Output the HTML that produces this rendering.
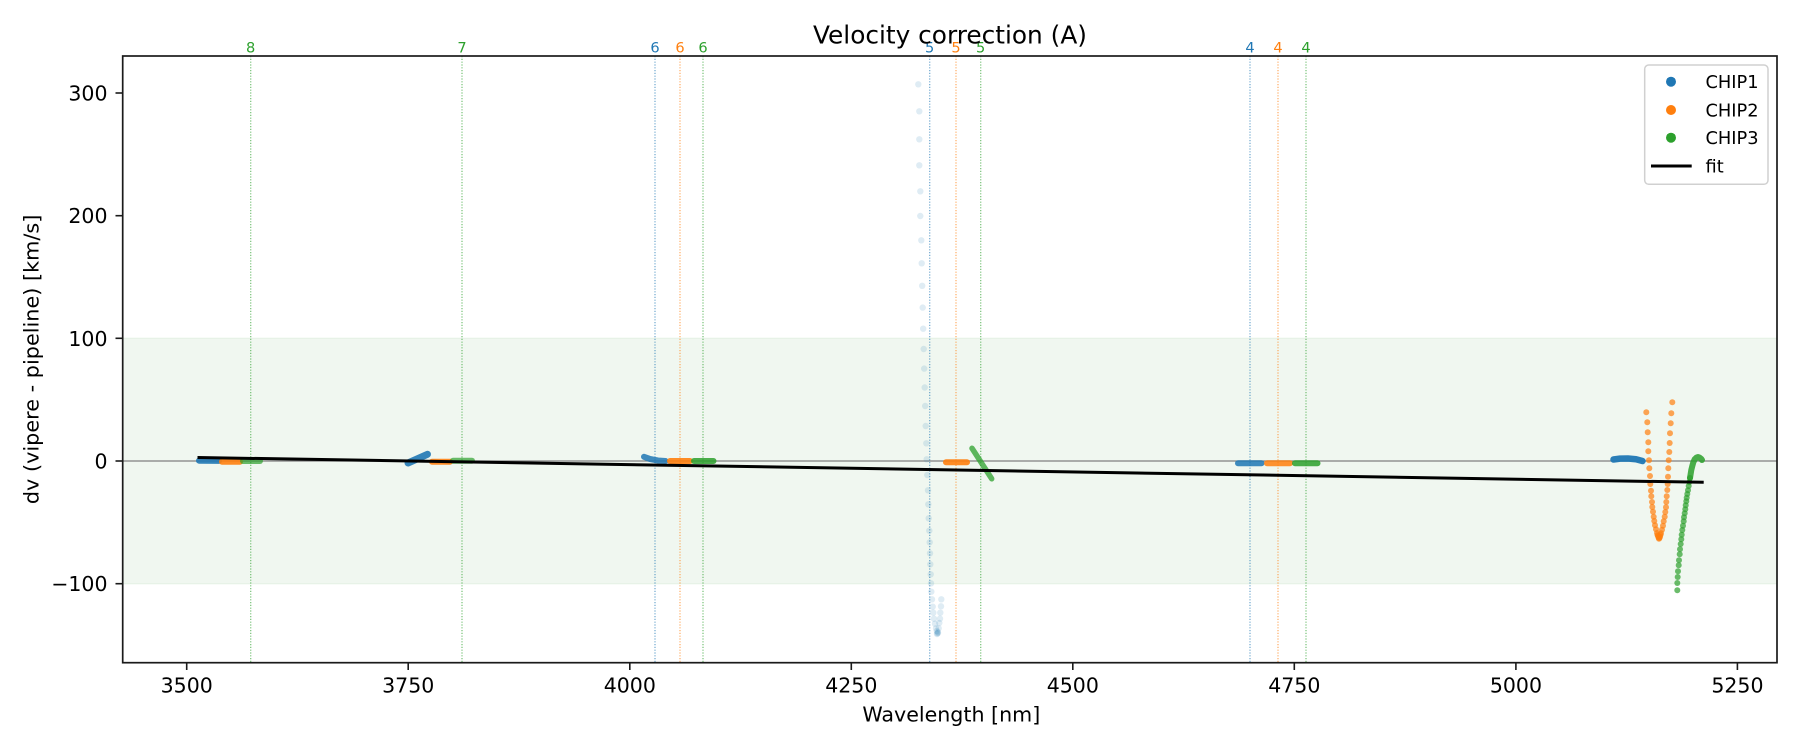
<!DOCTYPE html>
<html>
<head>
<meta charset="utf-8">
<style>
  html,body{margin:0;padding:0;background:#fff;}
  svg{display:block;}
  text{font-family:"DejaVu Sans","Liberation Sans",sans-serif;}
</style>
</head>
<body>
<svg width="1800" height="750" viewBox="0 0 1800 750" xmlns="http://www.w3.org/2000/svg">
  <rect x="0" y="0" width="1800" height="750" fill="#ffffff"/>
  <defs>
    <clipPath id="plot"><rect x="122.7" y="56" width="1654.3" height="606.7"/></clipPath>
  </defs>

  <g clip-path="url(#plot)">
    <!-- green band -100..100 -->
    <rect x="122.7" y="338.3" width="1654.3" height="245.4" fill="#f0f7f0"/>
    <line x1="122.7" y1="338.3" x2="1777" y2="338.3" stroke="#e4f1e4" stroke-width="1"/>
    <line x1="122.7" y1="583.7" x2="1777" y2="583.7" stroke="#e4f1e4" stroke-width="1"/>

    <!-- vertical dotted lines -->
    <g stroke-width="1.3" stroke-dasharray="1.2 1.6" opacity="0.6">
      <line x1="250.7" y1="56" x2="250.7" y2="663" stroke="#2ca02c"/>
      <line x1="462" y1="56" x2="462" y2="663" stroke="#2ca02c"/>
      <line x1="655" y1="56" x2="655" y2="663" stroke="#1f77b4"/>
      <line x1="680" y1="56" x2="680" y2="663" stroke="#ff7f0e"/>
      <line x1="703" y1="56" x2="703" y2="663" stroke="#2ca02c"/>
      <line x1="929.7" y1="56" x2="929.7" y2="663" stroke="#1f77b4"/>
      <line x1="956" y1="56" x2="956" y2="663" stroke="#ff7f0e"/>
      <line x1="980.7" y1="56" x2="980.7" y2="663" stroke="#2ca02c"/>
      <line x1="1250" y1="56" x2="1250" y2="663" stroke="#1f77b4"/>
      <line x1="1278" y1="56" x2="1278" y2="663" stroke="#ff7f0e"/>
      <line x1="1306" y1="56" x2="1306" y2="663" stroke="#2ca02c"/>
    </g>

    <!-- zero line -->
    <line x1="122.7" y1="461" x2="1777" y2="461" stroke="#808080" stroke-width="1.2"/>

    <!-- faint blue stripe at ~4330 -->
    <g fill="#1f77b4" fill-opacity="0.14">
      <circle cx="918.3" cy="84.3" r="3.2"/><circle cx="919.3" cy="111.3" r="3.2"/>
      <circle cx="919.3" cy="139.3" r="3.2"/><circle cx="919.3" cy="165.3" r="3.2"/>
      <circle cx="920.3" cy="191.3" r="3.2"/><circle cx="920.3" cy="216" r="3.2"/>
      <circle cx="921.3" cy="240.3" r="3.2"/><circle cx="921.7" cy="263.3" r="3.2"/>
      <circle cx="922.2" cy="285.8" r="3.2"/><circle cx="922.7" cy="307.6" r="3.2"/>
      <circle cx="923.2" cy="328.7" r="3.2"/><circle cx="923.7" cy="349" r="3.2"/>
      <circle cx="924.2" cy="368.6" r="3.2"/><circle cx="924.7" cy="387.5" r="3.2"/>
      <circle cx="925.2" cy="406" r="3.2"/><circle cx="925.7" cy="426" r="3.2"/>
      <circle cx="926.3" cy="443.3" r="3.2"/><circle cx="926.7" cy="459.3" r="3.2"/>
      <circle cx="927.3" cy="475" r="3.2"/><circle cx="928" cy="490.3" r="3.2"/>
      <circle cx="928.3" cy="504.3" r="3.2"/><circle cx="928.7" cy="518.3" r="3.2"/>
      <circle cx="929.3" cy="530.7" r="3.2"/><circle cx="929.7" cy="542.3" r="3.2"/>
      <circle cx="930" cy="553.3" r="3.2"/><circle cx="930.3" cy="564.3" r="3.2"/>
      <circle cx="930.7" cy="574.3" r="3.2"/><circle cx="931" cy="583.3" r="3.2"/>
      <circle cx="931.3" cy="591.7" r="3.2"/><circle cx="932" cy="599.3" r="3.2"/>
      <circle cx="932.7" cy="606.7" r="3.2"/><circle cx="933.3" cy="612.7" r="3.2"/>
      <circle cx="934" cy="618.7" r="3.2"/><circle cx="935" cy="623.7" r="3.2"/>
      <circle cx="936" cy="628.3" r="3.2"/><circle cx="937.3" cy="633.3" r="3.2"/>
      <circle cx="936.8" cy="631" r="3.2"/><circle cx="937.8" cy="632" r="3.2"/>
      <circle cx="937" cy="634" r="3.2"/><circle cx="938" cy="633" r="3.2"/>
      <circle cx="938.7" cy="628.3" r="3.2"/><circle cx="939.3" cy="623" r="3.2"/>
      <circle cx="940" cy="618.7" r="3.2"/><circle cx="940.3" cy="612.7" r="3.2"/>
      <circle cx="941" cy="606.3" r="3.2"/><circle cx="941.3" cy="599.3" r="3.2"/>
    </g>

    <!-- dense segments -->
    <g stroke-linecap="round" stroke-linejoin="round" fill="none" stroke-width="6">
      <!-- cluster 1 -->
      <line x1="199" y1="460.7" x2="219" y2="460.9" stroke="#1f77b4" stroke-opacity="0.9"/>
      <line x1="222" y1="461.7" x2="240" y2="461.7" stroke="#ff7f0e" stroke-opacity="0.9"/>
      <line x1="243" y1="461" x2="260" y2="461" stroke="#2ca02c" stroke-opacity="0.7"/>
      <!-- cluster 2 -->
      <line x1="408" y1="463" x2="427.5" y2="454.3" stroke="#1f77b4" stroke-opacity="0.9" stroke-width="7"/>
      <line x1="432" y1="461.7" x2="450" y2="461.7" stroke="#ff7f0e" stroke-opacity="0.9"/>
      <line x1="453" y1="460.7" x2="472" y2="460.7" stroke="#2ca02c" stroke-opacity="0.7"/>
      <!-- cluster 3 -->
      <polyline points="644,456.8 650,459 658,460.5 665.5,461" stroke="#1f77b4" stroke-opacity="0.85"/>
      <line x1="670" y1="461" x2="690" y2="461" stroke="#ff7f0e" stroke-opacity="0.9"/>
      <line x1="694" y1="461" x2="713.5" y2="461" stroke="#2ca02c" stroke-opacity="0.85"/>
      <!-- cluster 4 -->
      <line x1="946" y1="462.3" x2="967" y2="462.3" stroke="#ff7f0e" stroke-opacity="0.9"/>
      <line x1="972" y1="448.3" x2="991.7" y2="478.8" stroke="#2ca02c" stroke-opacity="0.75" stroke-width="5.5"/>
      <!-- cluster 5 -->
      <line x1="1238" y1="463.3" x2="1261.5" y2="463.3" stroke="#1f77b4" stroke-opacity="0.85"/>
      <line x1="1267" y1="463.3" x2="1290" y2="463.3" stroke="#ff7f0e" stroke-opacity="0.85"/>
      <line x1="1295" y1="463.3" x2="1317.5" y2="463.3" stroke="#2ca02c" stroke-opacity="0.85"/>
      <!-- cluster 6 blue -->
      <polyline points="1613.5,459.5 1620,458.6 1628,458.5 1636,459.2 1642.5,461" stroke="#1f77b4" stroke-opacity="0.95" stroke-width="6.5"/>
      <!-- green dense top -->
      <polyline points="1690,478 1691.3,470 1692.3,466 1693.3,462.3 1694.7,459.3 1696.3,457.7 1698,457 1699.7,457.7 1701.3,459 1702,460" stroke="#2ca02c" stroke-opacity="0.85"/>
    </g>

    <!-- orange V -->
    <g fill="#ff7f0e" fill-opacity="0.7">
      <circle cx="1646.3" cy="412.3" r="3"/><circle cx="1647.3" cy="422.3" r="3"/>
      <circle cx="1647.7" cy="432.3" r="3"/><circle cx="1648.3" cy="442.3" r="3"/>
      <circle cx="1648.3" cy="451.3" r="3"/><circle cx="1649" cy="460.3" r="3"/>
      <circle cx="1649.3" cy="468.3" r="3"/><circle cx="1650" cy="476" r="3"/>
      <circle cx="1650.3" cy="484" r="3"/><circle cx="1651" cy="490.7" r="3"/>
      <circle cx="1651.3" cy="496.3" r="3"/><circle cx="1652" cy="502" r="3"/>
      <circle cx="1652.3" cy="507" r="3"/><circle cx="1653" cy="511.7" r="3"/>
      <circle cx="1653.7" cy="516.7" r="3"/><circle cx="1654.3" cy="521" r="3"/>
      <circle cx="1655" cy="525.3" r="3"/><circle cx="1656" cy="529.3" r="3"/>
      <circle cx="1657" cy="533" r="3"/><circle cx="1658" cy="536" r="3"/>
      <circle cx="1659" cy="538.7" r="3"/><circle cx="1658.5" cy="537.5" r="3"/>
      <circle cx="1659.5" cy="538" r="3"/><circle cx="1657.5" cy="535" r="3"/>
      <circle cx="1660.5" cy="535" r="3"/>
      <circle cx="1660" cy="536.7" r="3"/><circle cx="1661" cy="533.3" r="3"/>
      <circle cx="1662" cy="529.7" r="3"/><circle cx="1663" cy="525.7" r="3"/>
      <circle cx="1663.7" cy="521.3" r="3"/><circle cx="1664.7" cy="516.7" r="3"/>
      <circle cx="1665.3" cy="512" r="3"/><circle cx="1666" cy="507.3" r="3"/>
      <circle cx="1666.3" cy="502" r="3"/><circle cx="1666.7" cy="496.3" r="3"/>
      <circle cx="1667.3" cy="490" r="3"/><circle cx="1667.7" cy="484" r="3"/>
      <circle cx="1668" cy="476.7" r="3"/><circle cx="1668.3" cy="468.3" r="3"/>
      <circle cx="1668.7" cy="460.3" r="3"/><circle cx="1669.3" cy="452" r="3"/>
      <circle cx="1669.7" cy="443" r="3"/><circle cx="1670" cy="433.3" r="3"/>
      <circle cx="1670.7" cy="423.3" r="3"/><circle cx="1671.3" cy="413.3" r="3"/>
      <circle cx="1672.3" cy="402.3" r="3"/>
    </g>

    <!-- green curve -->
    <g fill="#2ca02c" fill-opacity="0.7">
      <circle cx="1677.3" cy="590.3" r="3"/><circle cx="1677.3" cy="583" r="3"/>
      <circle cx="1677.7" cy="577" r="3"/><circle cx="1678" cy="571.3" r="3"/>
      <circle cx="1678.7" cy="565.3" r="3"/><circle cx="1679" cy="560.3" r="3"/>
      <circle cx="1679.7" cy="554.3" r="3"/><circle cx="1680" cy="549.3" r="3"/>
      <circle cx="1680.7" cy="544" r="3"/><circle cx="1681.3" cy="539.3" r="3"/>
      <circle cx="1681.7" cy="534.7" r="3"/><circle cx="1682.3" cy="530" r="3"/>
      <circle cx="1683" cy="525.7" r="3"/><circle cx="1683.7" cy="521.3" r="3"/>
      <circle cx="1684" cy="517.3" r="3"/><circle cx="1684.7" cy="513.3" r="3"/>
      <circle cx="1685.3" cy="509.3" r="3"/><circle cx="1685.7" cy="505.3" r="3"/>
      <circle cx="1686.3" cy="501.3" r="3"/><circle cx="1686.7" cy="497.7" r="3"/>
      <circle cx="1687.3" cy="494" r="3"/><circle cx="1688" cy="490.3" r="3"/>
      <circle cx="1688.7" cy="486" r="3"/><circle cx="1689.3" cy="482" r="3"/>
      <circle cx="1690" cy="478" r="3"/>
    </g>

    <!-- fit line -->
    <line x1="197.5" y1="457.5" x2="1703.7" y2="482.3" stroke="#000" stroke-width="3"/>
  </g>

  <!-- axes spines -->
  <rect x="122.7" y="56" width="1654.3" height="606.7" fill="none" stroke="#1a1a1a" stroke-width="1.7"/>

  <!-- y ticks -->
  <g stroke="#1a1a1a" stroke-width="1.6">
    <line x1="115.5" y1="93" x2="122.7" y2="93"/>
    <line x1="115.5" y1="215.7" x2="122.7" y2="215.7"/>
    <line x1="115.5" y1="338.3" x2="122.7" y2="338.3"/>
    <line x1="115.5" y1="461" x2="122.7" y2="461"/>
    <line x1="115.5" y1="583.7" x2="122.7" y2="583.7"/>
  </g>
  <g font-size="20.5" fill="#000" text-anchor="end">
    <text x="107.5" y="100.5">300</text>
    <text x="107.5" y="223.2">200</text>
    <text x="107.5" y="345.8">100</text>
    <text x="107.5" y="468.5">0</text>
    <text x="107.5" y="591.2">−100</text>
  </g>

  <!-- x ticks -->
  <g stroke="#1a1a1a" stroke-width="1.6">
    <line x1="186.7" y1="662.7" x2="186.7" y2="670"/>
    <line x1="408.2" y1="662.7" x2="408.2" y2="670"/>
    <line x1="629.8" y1="662.7" x2="629.8" y2="670"/>
    <line x1="851.3" y1="662.7" x2="851.3" y2="670"/>
    <line x1="1072.8" y1="662.7" x2="1072.8" y2="670"/>
    <line x1="1294.3" y1="662.7" x2="1294.3" y2="670"/>
    <line x1="1515.9" y1="662.7" x2="1515.9" y2="670"/>
    <line x1="1737.4" y1="662.7" x2="1737.4" y2="670"/>
  </g>
  <g font-size="20.5" fill="#000" text-anchor="middle">
    <text x="186.7" y="692.7">3500</text>
    <text x="408.2" y="692.7">3750</text>
    <text x="629.8" y="692.7">4000</text>
    <text x="851.3" y="692.7">4250</text>
    <text x="1072.8" y="692.7">4500</text>
    <text x="1294.3" y="692.7">4750</text>
    <text x="1515.9" y="692.7">5000</text>
    <text x="1737.4" y="692.7">5250</text>
  </g>

  <!-- vline labels -->
  <g font-size="14.6" text-anchor="middle">
    <text x="250.7" y="52.7" fill="#2ca02c">8</text>
    <text x="462" y="52.7" fill="#2ca02c">7</text>
    <text x="655" y="52.7" fill="#1f77b4">6</text>
    <text x="680" y="52.7" fill="#ff7f0e">6</text>
    <text x="703" y="52.7" fill="#2ca02c">6</text>
    <text x="929.7" y="52.7" fill="#1f77b4">5</text>
    <text x="956" y="52.7" fill="#ff7f0e">5</text>
    <text x="980.7" y="52.7" fill="#2ca02c">5</text>
    <text x="1250" y="52.7" fill="#1f77b4">4</text>
    <text x="1278" y="52.7" fill="#ff7f0e">4</text>
    <text x="1306" y="52.7" fill="#2ca02c">4</text>
  </g>

  <!-- title & labels -->
  <text x="950" y="43.3" font-size="24.8" text-anchor="middle" fill="#000">Velocity correction (A)</text>
  <text x="951.3" y="721.7" font-size="20.6" text-anchor="middle" fill="#000">Wavelength [nm]</text>
  <text transform="translate(38.3,359.4) rotate(-90)" font-size="20.8" text-anchor="middle" fill="#000">dv (vipere - pipeline) [km/s]</text>

  <!-- legend -->
  <rect x="1644.7" y="65" width="123.3" height="119.3" rx="4" ry="4" fill="#ffffff" fill-opacity="0.8" stroke="#d0d0d0" stroke-width="1.5"/>
  <circle cx="1671" cy="81.7" r="5" fill="#1f77b4"/>
  <circle cx="1671" cy="110" r="5" fill="#ff7f0e"/>
  <circle cx="1671" cy="137.7" r="5" fill="#2ca02c"/>
  <line x1="1651" y1="166" x2="1691.7" y2="166" stroke="#000" stroke-width="3"/>
  <g font-size="17.8" fill="#000">
    <text x="1705.5" y="88.2">CHIP1</text>
    <text x="1705.5" y="116.5">CHIP2</text>
    <text x="1705.5" y="144.2">CHIP3</text>
    <text x="1705.5" y="172.5">fit</text>
  </g>
</svg>
</body>
</html>
